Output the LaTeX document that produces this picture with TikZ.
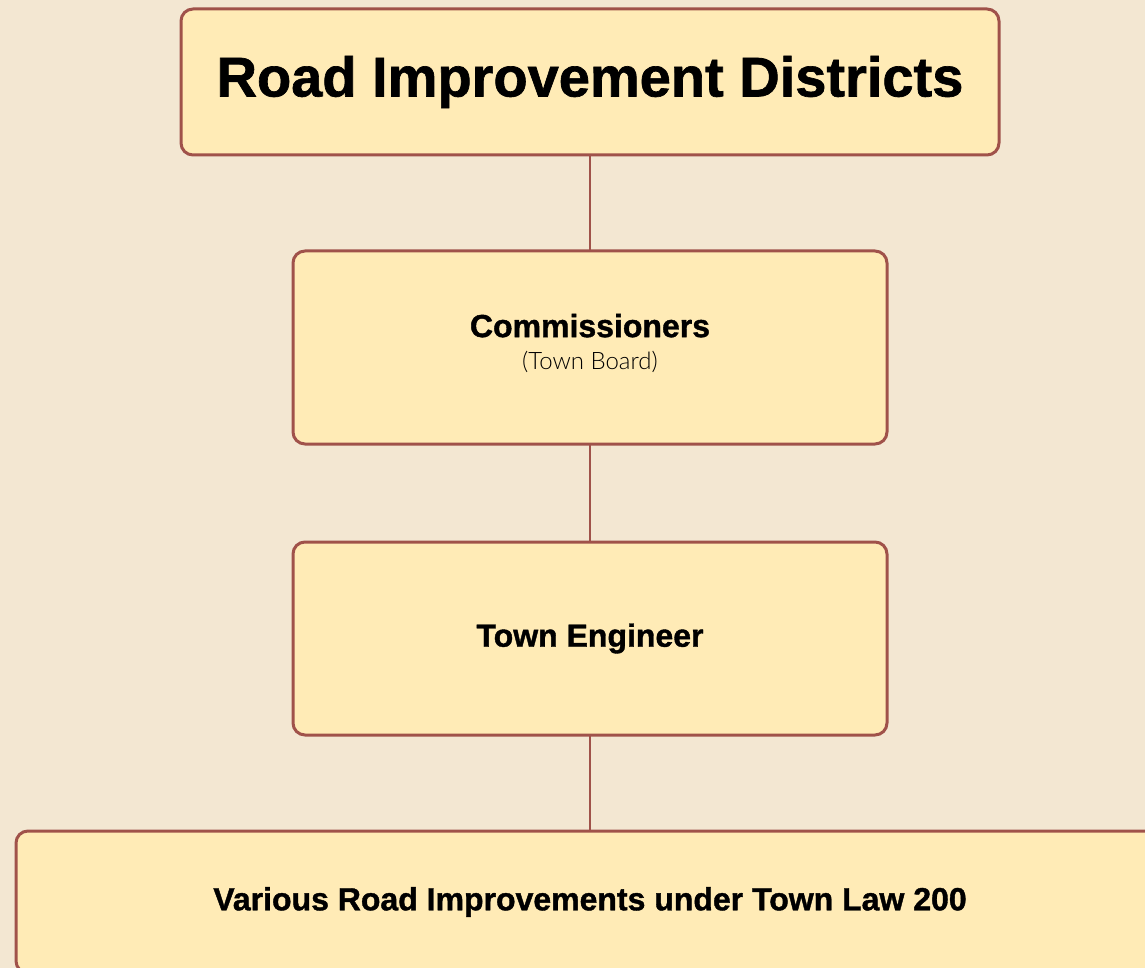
\documentclass[tikz,border=0pt]{standalone}
\usepackage{fontspec}
\setmainfont[BoldFeatures={FakeBold=1.2}]{Liberation Sans}
\newfontfamily\thinfont{Lato Light}
\usetikzlibrary{calc}
\definecolor{paper}{HTML}{F3E7D2}
\definecolor{boxfill}{HTML}{FFEBB6}
\definecolor{boxline}{HTML}{A0524A}
\begin{document}
\begin{tikzpicture}[x=1pt,y=1pt,
            unit/.style={draw=boxline,line width=3pt,fill=boxfill,rounded corners=12pt,outer sep=0pt,
                         minimum width=594pt,minimum height=193pt,align=center,
                         font={\fontsize{32}{36}\selectfont\bfseries}},
            title/.style={unit,minimum width=818pt,minimum height=146pt,
                          font={\fontsize{56}{62}\selectfont\bfseries}},
            link/.style={draw=boxline,line width=2pt}]
            \clip (0,0) rectangle (1145,-968);
            \fill[paper] (0,0) rectangle (1145,-968);

            \node[title,anchor=north] (rid) at (590,-9) {Road Improvement Districts};

            \node[unit,anchor=north] (comm) at ($ (rid.south) + (0,-96) $) {
                \raisebox{12pt}{Commissioners}\\[-4pt]
                \raisebox{12pt}{\thinfont\mdseries\fontsize{24}{26}\selectfont (Town Board)}
            };

            \node[unit,anchor=north] (eng) at ($ (comm.south) + (0,-98) $) {Town Engineer};

            \node[unit,anchor=north,minimum width=1148pt,minimum height=142pt] (works)
                at ($ (eng.south) + (0,-96) $) {Various Road Improvements under Town Law 200};

            \draw[link] (rid.south) -- (comm.north);
            \draw[link] (comm.south) -- (eng.north);
            \draw[link] (eng.south) -- (works.north);
        \end{tikzpicture}
\end{document}
